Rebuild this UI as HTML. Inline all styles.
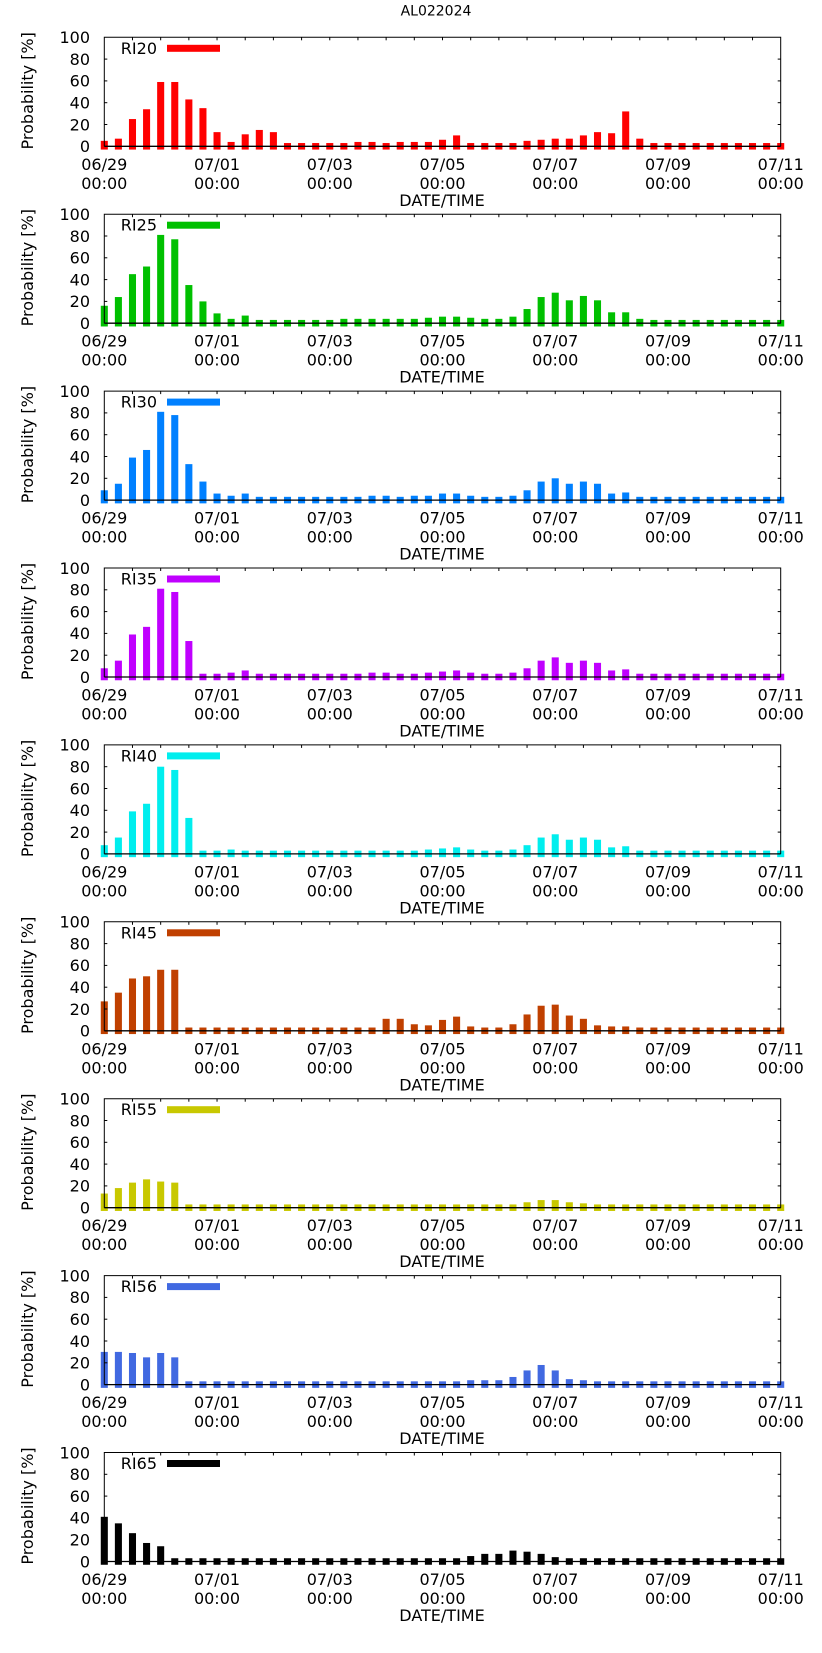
<!DOCTYPE html>
<html><head><meta charset="utf-8"><title>AL022024</title>
<style>
html,body{margin:0;padding:0;background:#fff;}
svg{display:block;font-family:"DejaVu Sans","Liberation Sans",sans-serif;}
</style></head>
<body>
<svg id="chart" width="822" height="1653" viewBox="0 0 822 1653" xmlns="http://www.w3.org/2000/svg">
<rect x="0" y="0" width="822" height="1653" fill="#fff"/>
<text x="436" y="15.5" font-size="14" text-anchor="middle" fill="#000">AL022024</text>
</svg>
<script>
// ---- data ----
const seriesNames = ["RI20","RI25","RI30","RI35","RI40","RI45","RI55","RI56","RI65"];
const seriesColors = ["#ff0000","#00c000","#0080ff","#c000ff","#00eeee","#c04000","#c8c800","#4169e1","#000000"];
const ri20 = [5,7,25,34,59,59,43,35,13,4,11,15,13,3,3,3,3,3,4,4,3,4,4,4,6,10,3,3,3,3,5,6,7,7,10,13,12,32,7,3,3,3,3,3,3,3,3,3,3];
const ri25 = [16,24,45,52,81,77,35,20,9,4,7,3,3,3,3,3,3,4,4,4,4,4,4,5,6,6,5,4,4,6,13,24,28,21,25,21,10,10,4,3,3,3,3,3,3,3,3,3,3];
const ri30 = [9,15,39,46,81,78,33,17,6,4,6,3,3,3,3,3,3,3,3,4,4,3,4,4,6,6,4,3,3,4,9,17,20,15,17,15,6,7,3,3,3,3,3,3,3,3,3,3,3];
const ri35 = [8,15,39,46,81,78,33,3,3,4,6,3,3,3,3,3,3,3,3,4,4,3,3,4,5,6,4,3,3,4,8,15,18,13,15,13,6,7,3,3,3,3,3,3,3,3,3,3,3];
const ri40 = [8,15,39,46,80,77,33,3,3,4,3,3,3,3,3,3,3,3,3,3,3,3,3,4,5,6,4,3,3,4,8,15,18,13,15,13,6,7,3,3,3,3,3,3,3,3,3,3,3];
const ri45 = [27,35,48,50,56,56,3,3,3,3,3,3,3,3,3,3,3,3,3,3,11,11,6,5,10,13,4,3,3,6,15,23,24,14,11,5,4,4,3,3,3,3,3,3,3,3,3,3,3];
const ri55 = [13,18,23,26,24,23,3,3,3,3,3,3,3,3,3,3,3,3,3,3,3,3,3,3,3,3,3,3,3,3,5,7,7,5,4,3,3,3,3,3,3,3,3,3,3,3,3,3,3];
const ri56 = [30,30,29,25,29,25,3,3,3,3,3,3,3,3,3,3,3,3,3,3,3,3,3,3,3,3,4,4,4,7,13,18,13,5,4,3,3,3,3,3,3,3,3,3,3,3,3,3,3];
const ri65 = [41,35,26,17,14,3,3,3,3,3,3,3,3,3,3,3,3,3,3,3,3,3,3,3,3,3,5,7,7,10,9,7,4,3,3,3,3,3,3,3,3,3,3,3,3,3,3,3,3];
const yTicks = [0,20,40,60,80,100];
const xTickDays = [0,2,4,6,8,10,12];
const xTickLabels = ["06/29","07/01","07/03","07/05","07/07","07/09","07/11"];
const hoursPerBar = 6;
const totalDays = 12;
// ---- layout ----
const allSeries = [ri20,ri25,ri30,ri35,ri40,ri45,ri55,ri56,ri65];
const NS = "http://www.w3.org/2000/svg";
const svg = document.getElementById("chart");
const L = 104.3, R = 780.7, TOP0 = 37.3, PH = 109, GAP = 176.9;
function el(tag, attrs, parent){const e=document.createElementNS(NS,tag);for(const k in attrs)e.setAttribute(k,attrs[k]);(parent||svg).appendChild(e);return e;}
function xScale(hours){return L + (R-L)*hours/(totalDays*24);}

allSeries.forEach((vals, p) => {
  const top = TOP0 + p*GAP;
  const zero = top + PH;
  const yScale = v => zero - v*PH/100;
  const g = el("g", {});
  
  
  // bars
  const barW = (R-L)/(totalDays*24/hoursPerBar)*0.5;
  vals.forEach((v,i) => {
    const cx = xScale(i*hoursPerBar);
    const r = el("rect", {x:(cx-barW/2).toFixed(2), y:yScale(v).toFixed(2), width:barW.toFixed(2), height:(yScale(-3)-yScale(v)).toFixed(2), fill:seriesColors[p]}, g);
    
    
  });
  // frame
  const f = el("path", {d:`M${L} ${zero} L${L} ${top} L${R} ${top} L${R} ${zero}`, fill:"none", stroke:"#000", "stroke-width":"1"}, g);
  
  
  const z = el("line", {x1:L, y1:zero, x2:R, y2:zero, stroke:"#000", "stroke-width":"1.3"}, g);
  
  
  // y ticks
  yTicks.forEach(t => {
    const y = yScale(t);
    if (t>0 && t<100){
      el("line",{x1:L,y1:y,x2:L+3,y2:y,stroke:"#000"},g);
      el("line",{x1:R,y1:y,x2:R-3,y2:y,stroke:"#000"},g);
    }
    const tx = el("text",{x:90,y:(y+5.8).toFixed(1),"font-size":"16","text-anchor":"end",fill:"#000"},g);
    tx.textContent = t;
    
    
  });
  // x minor ticks on top every 12h
  for (let h=12; h<totalDays*24; h+=12){
    const x = xScale(h);
    el("line",{x1:x,y1:top,x2:x,y2:top+3,stroke:"#000"},g);
  }
  // x tick labels
  xTickDays.forEach((d,k) => {
    const x = xScale(d*24);
    const t1 = el("text",{x:x.toFixed(1),y:(zero+23.5).toFixed(1),"font-size":"16","text-anchor":"middle",fill:"#000"},g);
    t1.textContent = xTickLabels[k];
    
    
    const t2 = el("text",{x:x.toFixed(1),y:(zero+42.5).toFixed(1),"font-size":"16","text-anchor":"middle",fill:"#000"},g);
    t2.textContent = "00:00";
    
    
  });
  const xt = el("text",{x:442,y:(zero+59.5).toFixed(1),"font-size":"16","text-anchor":"middle",fill:"#000"},g);
  xt.textContent = "DATE/TIME";
  
  
  const cy = top + PH/2 - 1;
  const yt = el("text",{x:0,y:0,"font-size":"16","text-anchor":"middle",fill:"#000",transform:`translate(33,${cy.toFixed(1)}) rotate(-90)`},g);
  yt.textContent = "Probability [%]";
  
  
  // legend
  const lt = el("text",{x:157,y:(top+16.5).toFixed(1),"font-size":"16","text-anchor":"end",fill:"#000"},g);
  lt.textContent = seriesNames[p];
  
  
  const ls = el("rect",{x:167,y:(top+7.5).toFixed(1),width:53,height:7,fill:seriesColors[p]},g);
  
  
});
</script>
</body></html>
